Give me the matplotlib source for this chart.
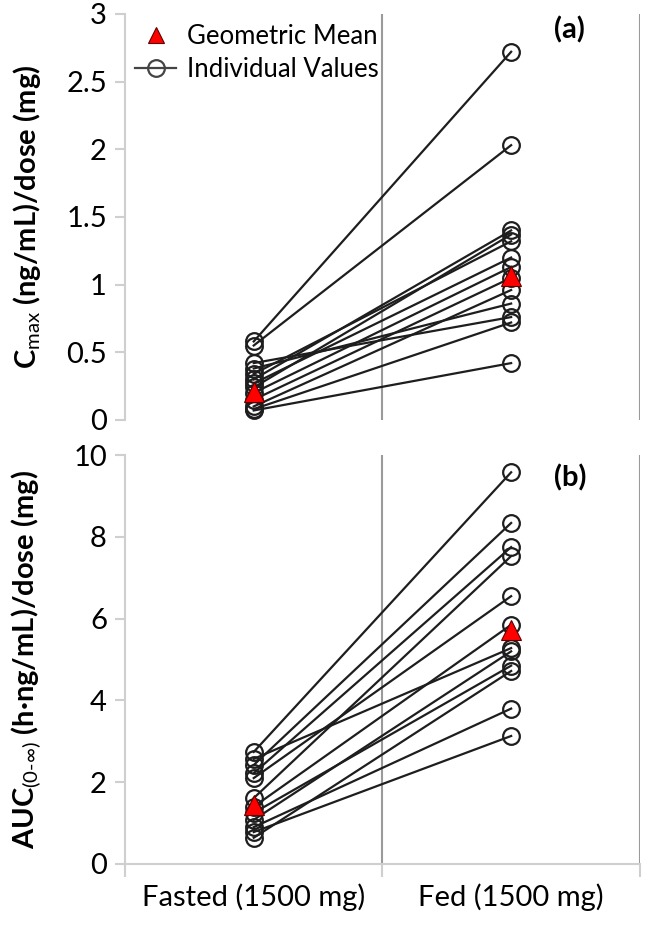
import numpy as np
import matplotlib
matplotlib.use("Agg")
import matplotlib.pyplot as plt
from matplotlib.lines import Line2D

plt.rcParams["font.family"] = ["Lato", "DejaVu Sans"]
plt.rcParams["mathtext.fontset"] = "custom"
plt.rcParams["mathtext.rm"] = "Lato"
plt.rcParams["mathtext.bf"] = "Lato:bold"

categories = ["Fasted (1500 mg)", "Fed (1500 mg)"]

# panel (a): Cmax/dose, one pair per subject
cmax_fasted = [0.58, 0.55, 0.42, 0.38, 0.34, 0.30, 0.24, 0.27, 0.20, 0.15, 0.10, 0.08, 0.07]
cmax_fed = [2.72, 2.03, 0.76, 0.86, 1.32, 1.40, 1.37, 1.20, 1.13, 1.05, 0.96, 0.72, 0.42]
cmax_gm = [0.21, 1.06]

# panel (b): AUC/dose
auc_fasted = [2.74, 2.42, 2.22, 1.61, 2.10, 2.57, 1.40, 1.08, 1.25, 0.64, 0.90, 0.78]
auc_fed = [9.58, 8.34, 7.75, 7.53, 6.55, 5.28, 5.85, 5.20, 4.85, 4.72, 3.80, 3.13]
auc_gm = [1.44, 5.72]

xpos = [0.5, 1.5]
LINE = "#1e1e1e"
GRID = "#9a9a9a"
SPINE = "#cfcfcf"

fig = plt.figure(figsize=(6.46, 9.25), dpi=100)
ax1 = fig.add_axes([0.1935, 0.546, 0.797, 0.439])
ax2 = fig.add_axes([0.1935, 0.066, 0.797, 0.442])


def draw(ax, fasted, fed, gm, ymax, step):
    for a, b in zip(fasted, fed):
        ax.plot(xpos, [a, b], color=LINE, lw=1.6, marker="o", ms=12,
                mfc="none", mec=LINE, mew=1.6, zorder=3)
    ax.plot(xpos, gm, ls="none", marker="^", ms=15, mfc="#ff0000",
            mec="#600000", mew=0.8, zorder=5)
    ax.set_xlim(0, 2)
    ax.set_ylim(0, ymax)
    ax.axvline(1, color=GRID, lw=1.5, zorder=1)
    ax.axvline(2, color=GRID, lw=1.5, zorder=1)
    ticks = np.arange(0, ymax + step / 2, step)
    ax.set_yticks(ticks)
    ax.set_yticklabels([f"{t:g}" for t in ticks])
    for s in ["top", "right"]:
        ax.spines[s].set_visible(False)
    ax.spines["left"].set_color(SPINE)
    ax.spines["left"].set_linewidth(1.5)
    ax.tick_params(axis="y", length=7, width=1.5, color=SPINE, labelsize=21, pad=6)


draw(ax1, cmax_fasted, cmax_fed, cmax_gm, 3, 0.5)
draw(ax2, auc_fasted, auc_fed, auc_gm, 10, 2)

# top panel: no category axis
ax1.spines["bottom"].set_visible(False)
ax1.set_xticks([])

ax2.spines["bottom"].set_color(SPINE)
ax2.spines["bottom"].set_linewidth(1.5)
ax2.set_xticks([0, 1, 2])
ax2.set_xticklabels([])
ax2.set_xticks(xpos, minor=True)
ax2.set_xticklabels(categories, minor=True)
ax2.tick_params(axis="x", which="major", length=9, width=1.5, color=SPINE)
ax2.tick_params(axis="x", which="minor", length=0, labelsize=21, pad=14)

ax1.set_ylabel(r"C$_{\mathrm{max}}$ (ng/mL)/dose (mg)", fontsize=21,
               fontweight="bold")
ax2.set_ylabel(r"AUC$_{(0\text{-}\infty)}$ (h·ng/mL)/dose (mg)", fontsize=21,
               fontweight="bold")
ax1.yaxis.set_label_coords(-0.16, 0.5)
ax2.yaxis.set_label_coords(-0.16, 0.5)

ax1.text(0.864, 0.96, "(a)", transform=ax1.transAxes, fontsize=21,
         fontweight="bold", ha="center", va="center")
ax2.text(0.864, 0.944, "(b)", transform=ax2.transAxes, fontsize=21,
         fontweight="bold", ha="center", va="center")

handles = [
    Line2D([], [], ls="none", marker="^", ms=12, mfc="#ff0000", mec="#600000", mew=0.8),
    Line2D([], [], color="#444444", lw=1.6, marker="o", ms=12, mfc="none",
           mec="#444444", mew=1.6),
]
ax1.legend(handles, ["Geometric Mean", "Individual Values"], loc="upper left",
           bbox_to_anchor=(0.0, 1.0), frameon=False, fontsize=18.5,
           handlelength=1.6, handletextpad=0.4, labelspacing=0.3, borderaxespad=0)

fig.savefig("out.png", dpi=100)
